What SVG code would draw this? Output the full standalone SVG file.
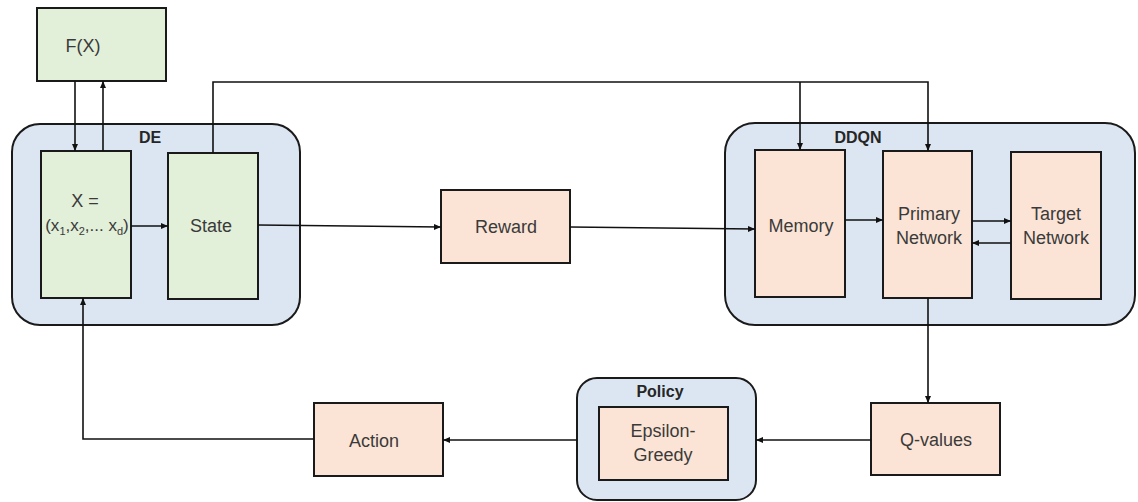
<svg xmlns="http://www.w3.org/2000/svg" width="1138" height="502" viewBox="0 0 1138 502">
<style>
.cont{fill:#dce6f2;stroke:#1a1a1a;stroke-width:2}
.green{fill:#e2efd9;stroke:#1a1a1a;stroke-width:2}
.peach{fill:#fbe4d5;stroke:#1a1a1a;stroke-width:2}
.t{font-family:"Liberation Sans",Arial,sans-serif;font-size:18px;fill:#3a3a3a;text-anchor:middle}
.s{font-size:17px}
.b{font-family:"Liberation Sans",Arial,sans-serif;font-size:16px;font-weight:bold;fill:#262626;text-anchor:middle}
.c{fill:none;stroke:#111;stroke-width:1.6}
</style>
<defs>
<marker id="ah" markerWidth="8" markerHeight="8" refX="7" refY="4" orient="auto" markerUnits="userSpaceOnUse">
<path d="M0,1 L7,4 L0,7 Z" fill="#111"/>
</marker>
</defs>
<g id="DE">
<rect class="cont" x="12" y="124" width="288" height="201" rx="28"/>
<text class="b" x="150" y="143">DE</text>
</g>
<g id="DDQN">
<rect class="cont" x="725" y="123" width="410" height="202" rx="30"/>
<text class="b" x="858" y="143">DDQN</text>
</g>
<g id="Policy">
<rect class="cont" x="577" y="378" width="179" height="122" rx="20"/>
<text class="b" x="660" y="397">Policy</text>
</g>
<g id="FX">
<rect class="green" x="37" y="8" width="129" height="73"/>
<text class="t" x="83" y="52">F(X)</text>
</g>
<g id="X">
<rect class="green" x="41" y="151" width="90" height="147"/>
<text class="t" x="85" y="207">X =</text>
<text class="t s" x="87" y="231">(x<tspan font-size="11" dy="4">1</tspan><tspan dy="-4">,x</tspan><tspan font-size="11" dy="4">2</tspan><tspan dy="-4">,... x</tspan><tspan font-size="11" dy="4">d</tspan><tspan dy="-4">)</tspan></text>
</g>
<g id="State">
<rect class="green" x="168" y="153" width="90" height="146"/>
<text class="t" x="211" y="232">State</text>
</g>
<g id="Reward">
<rect class="peach" x="441" y="190" width="129" height="73"/>
<text class="t" x="506" y="233">Reward</text>
</g>
<g id="Memory">
<rect class="peach" x="755" y="150" width="90" height="147"/>
<text class="t" x="801" y="232">Memory</text>
</g>
<g id="Primary">
<rect class="peach" x="883" y="151" width="89" height="147"/>
<text class="t" x="929" y="220">Primary</text>
<text class="t" x="929" y="244">Network</text>
</g>
<g id="Target">
<rect class="peach" x="1011" y="152" width="90" height="147"/>
<text class="t" x="1056" y="220">Target</text>
<text class="t" x="1056" y="244">Network</text>
</g>
<g id="Qvalues">
<rect class="peach" x="871" y="403" width="129" height="72"/>
<text class="t" x="936" y="446">Q-values</text>
</g>
<g id="Epsilon">
<rect class="peach" x="599" y="407" width="129" height="73"/>
<text class="t" x="663" y="437">Epsilon-</text>
<text class="t" x="663" y="461">Greedy</text>
</g>
<g id="Action">
<rect class="peach" x="314" y="403" width="129" height="73"/>
<text class="t" x="374" y="447">Action</text>
</g>
<g id="connectors">
<path class="c" d="M75,81 V151" marker-end="url(#ah)"/>
<path class="c" d="M103,151 V81" marker-end="url(#ah)"/>
<path class="c" d="M131,226 H168" marker-end="url(#ah)"/>
<path class="c" d="M213,153 V82 H928 V151" marker-end="url(#ah)"/>
<path class="c" d="M800,82 V150" marker-end="url(#ah)"/>
<path class="c" d="M258,225 L441,227" marker-end="url(#ah)"/>
<path class="c" d="M570,227 L755,229" marker-end="url(#ah)"/>
<path class="c" d="M845,220 H883" marker-end="url(#ah)"/>
<path class="c" d="M972,221 H1011" marker-end="url(#ah)"/>
<path class="c" d="M1011,243 H972" marker-end="url(#ah)"/>
<path class="c" d="M928,298 V403" marker-end="url(#ah)"/>
<path class="c" d="M871,440 H756" marker-end="url(#ah)"/>
<path class="c" d="M577,440 H443" marker-end="url(#ah)"/>
<path class="c" d="M314,439 H83 V298" marker-end="url(#ah)"/>
</g>
</svg>
